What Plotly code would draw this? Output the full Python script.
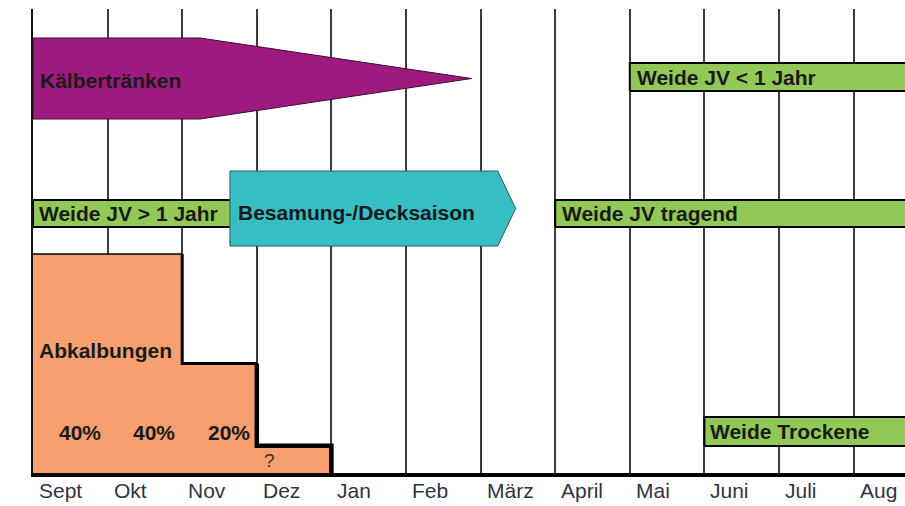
import plotly.graph_objects as go

# ---------------- data ----------------
months = ["Sept", "Okt", "Nov", "Dez", "Jan", "Feb", "März", "April", "Mai", "Juni", "Juli", "Aug"]

# Abkalbungen (calving share per month, Sept..Dez)
calv_pct = [40, 40, 20, 5]
calv_text = ["40%", "40%", "20%", "?"]

# activity spans in months from 1 Sept (0 = 1 Sept)
kaelber_start, kaelber_full_end, kaelber_end = 0.0, 2.24, 5.88
besam_start, besam_full_end, besam_end = 2.64, 6.23, 6.47
weide_gt1_start, weide_gt1_end = 0.0, 2.7
weide_lt1_start, weide_lt1_end = 8.0, 12.0
weide_trag_start, weide_trag_end = 7.0, 12.0
weide_trock_start, weide_trock_end = 9.0, 12.0

# ---------------- layout (rows in pixel units above the time axis) ----------------
ROW = {
    "kaelber": (354, 435),
    "weide_lt1": (382, 410),
    "besam": (227, 302),
    "weide_mid": (246, 273),
    "trock": (27, 56),
}
PX_PER_PCT = 219 / 40.0
PLOT_H = 464

PURPLE = "#9E1A7F"
CYAN = "#37BEC4"
GREEN = "#92C956"
ORANGE = "#F5A06E"
FONT = "Liberation Sans, Arial, sans-serif"

fig = go.Figure()

# Abkalbungen: stepped area
bx = list(range(len(calv_pct) + 1))
by = calv_pct + [calv_pct[-1]]
fig.add_trace(go.Scatter(x=bx, y=by, mode="lines", line=dict(shape="hv", width=0, color=ORANGE),
                         fill="tozeroy", fillcolor=ORANGE, yaxis="y2", showlegend=False,
                         hoverinfo="skip"))
# outline of the calving steps
fig.add_trace(go.Scatter(x=[0, 2], y=[calv_pct[0], calv_pct[1]], mode="lines",
                         line=dict(color="black", width=1.5), yaxis="y2", showlegend=False))
fig.add_trace(go.Scatter(x=[2, 3], y=[calv_pct[1], calv_pct[2]], mode="lines",
                         line=dict(color="black", width=3, shape="vh"), yaxis="y2", showlegend=False))
fig.add_trace(go.Scatter(x=[3, 3, 4, 4], y=[calv_pct[2], calv_pct[3], calv_pct[3], 0], mode="lines",
                         line=dict(color="black", width=4.5), yaxis="y2", showlegend=False))


def poly(xs, ys, fill, lc, lw):
    fig.add_trace(go.Scatter(x=xs + [xs[0]], y=ys + [ys[0]], mode="lines", fill="toself",
                             fillcolor=fill, line=dict(color=lc, width=lw),
                             showlegend=False, hoverinfo="skip"))


def rect(x0, x1, row, fill, lc="black", lw=2):
    y0, y1 = ROW[row]
    poly([x0, x1, x1, x0], [y0, y0, y1, y1], fill, lc, lw)


# Kälbertränken
y0, y1 = ROW["kaelber"]
poly([kaelber_start, kaelber_full_end, kaelber_end, kaelber_full_end, kaelber_start],
     [y1, y1, (y0 + y1) / 2, y0, y0], PURPLE, "#3a1030", 1)

# green pasture bars
rect(weide_lt1_start, weide_lt1_end, "weide_lt1", GREEN)
rect(weide_gt1_start, weide_gt1_end, "weide_mid", GREEN)
rect(weide_trag_start, weide_trag_end, "weide_mid", GREEN)
rect(weide_trock_start, weide_trock_end, "trock", GREEN)

# Besamung-/Decksaison
y0, y1 = ROW["besam"]
poly([besam_start, besam_full_end, besam_end, besam_full_end, besam_start],
     [y1, y1, (y0 + y1) / 2, y0, y0], CYAN, "#2a5a60", 1)

ann = []


def label(x, y, text, shift=5, anchor="left", bold=True, size=21, color="#1a1a1a"):
    ann.append(dict(x=x, y=y, xref="x", yref="y", text=f"<b>{text}</b>" if bold else text,
                    showarrow=False, xanchor=anchor, yanchor="middle", xshift=shift,
                    font=dict(family=FONT, size=size, color=color)))


label(kaelber_start, 393, "Kälbertränken", 5)
label(weide_lt1_start, 396, "Weide JV &lt; 1 Jahr", 5)
label(weide_gt1_start, 260, "Weide JV &gt; 1 Jahr", 4)
label(besam_start, 261, "Besamung-/Decksaison", 6)
label(weide_trag_start, 260, "Weide JV tragend", 5)
label(weide_trock_start, 42, "Weide Trockene", 4)
label(0, 123, "Abkalbungen", 4)
for i, t in enumerate(calv_text):
    if t == "?":
        label(i, 13, t, 5, bold=False, size=19, color="#333")
    else:
        label(i + 1, 41, t, -5, anchor="right")

# month tick labels below the axis
for i, m in enumerate(months):
    ann.append(dict(x=i, y=0, xref="x", yref="paper", text=m, showarrow=False,
                    xanchor="left", yanchor="middle", xshift=4, yshift=-17,
                    font=dict(family=FONT, size=21, color="#333345")))

fig.update_layout(
    width=905, height=506,
    margin=dict(l=33, r=0, t=9, b=33),
    paper_bgcolor="white", plot_bgcolor="white",
    showlegend=False,
    annotations=ann,
    xaxis=dict(range=[0, (905 - 33) / 74.6], tick0=0, dtick=1, showgrid=True,
               gridcolor="#3c3c3c", gridwidth=1.5, showticklabels=False, ticks="",
               zeroline=False, showline=True, linecolor="black", linewidth=4, fixedrange=True),
    yaxis=dict(range=[0, PLOT_H], showgrid=False, zeroline=False, showticklabels=False,
               ticks="", showline=True, linecolor="#111", linewidth=2, fixedrange=True),
    yaxis2=dict(range=[0, PLOT_H / PX_PER_PCT], overlaying="y", showgrid=False,
                zeroline=False, showticklabels=False, ticks="", fixedrange=True),
)

fig.write_html("out.html", config={"displayModeBar": False},
               post_script="document.body.style.margin='0';document.body.style.overflow='hidden';")
